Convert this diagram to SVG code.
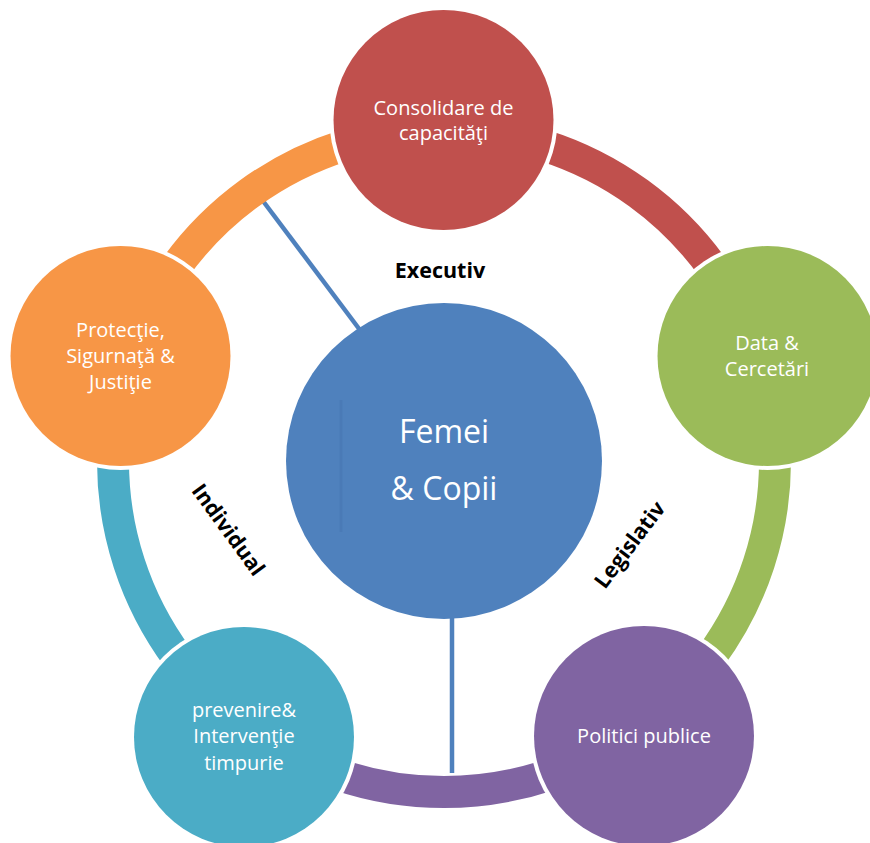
<svg xmlns="http://www.w3.org/2000/svg" width="870" height="843" viewBox="0 0 870 843">
  <style>
    .arc { fill: none; stroke-width: 32; }
    .halo { fill: #FFFFFF; }
    .lbl { font-family: "Open Sans", "Noto Sans", "DejaVu Sans", sans-serif; font-size: 20px; fill: #FFFFFF; text-anchor: middle; }
    .big { font-size: 32px; }
    .axis { font-family: "Open Sans", "Noto Sans", "DejaVu Sans", sans-serif; font-size: 21.5px; font-weight: bold; fill: #000000; text-anchor: middle; }
    .conn { stroke: #4F81BD; stroke-width: 4.5; fill: none; }
  </style>
  <rect width="870" height="843" fill="#FFFFFF"/>

  <g id="connectors">
    <line class="conn" x1="260" y1="197" x2="372" y2="346"/>
    <line class="conn" x1="452" y1="600" x2="452" y2="773"/>
    <path class="arc" stroke="#C0504D" d="M444 130 A331 331 0 0 1 758.8 358.7"/>
    <path class="arc" stroke="#9BBB59" d="M758.8 358.7 A331 331 0 0 1 638.6 728.8"/>
    <path class="arc" stroke="#8064A2" d="M638.6 728.8 A331 331 0 0 1 249.4 728.8"/>
    <path class="arc" stroke="#4BACC6" d="M249.4 728.8 A331 331 0 0 1 129.2 358.7"/>
    <path class="arc" stroke="#F79646" d="M129.2 358.7 A331 331 0 0 1 444 130"/>
  </g>

  <g id="center">
    <circle cx="444" cy="461" r="158" fill="#4F81BD"/>
    <line x1="341" y1="400" x2="341" y2="532" stroke="#4A7AB6" stroke-width="3"/>
    <text class="lbl big" x="444" y="443">Femei</text>
    <text class="lbl big" x="444" y="500">&amp; Copii</text>
  </g>

  <g id="node-consolidare">
    <circle class="halo" cx="443.5" cy="120" r="114"/>
    <circle cx="443.5" cy="120" r="110" fill="#C0504D"/>
    <text class="lbl" x="443.5" y="115">Consolidare de</text>
    <text class="lbl" x="443.5" y="140">capacităţi</text>
  </g>

  <g id="node-data">
    <circle class="halo" cx="767.5" cy="356" r="114"/>
    <circle cx="767.5" cy="356" r="110" fill="#9BBB59"/>
    <text class="lbl" x="767" y="350">Data &amp;</text>
    <text class="lbl" x="767" y="376">Cercetări</text>
  </g>

  <g id="node-politici">
    <circle class="halo" cx="644" cy="736" r="114"/>
    <circle cx="644" cy="736" r="110" fill="#8064A2"/>
    <text class="lbl" x="644" y="743">Politici publice</text>
  </g>

  <g id="node-prevenire">
    <circle class="halo" cx="244" cy="737" r="114"/>
    <circle cx="244" cy="737" r="110" fill="#4BACC6"/>
    <text class="lbl" x="244" y="717">prevenire&amp;</text>
    <text class="lbl" x="244" y="743">Intervenţie</text>
    <text class="lbl" x="244" y="770">timpurie</text>
  </g>

  <g id="node-protectie">
    <circle class="halo" cx="120.5" cy="356" r="114"/>
    <circle cx="120.5" cy="356" r="110" fill="#F79646"/>
    <text class="lbl" x="120.5" y="337">Protecţie,</text>
    <text class="lbl" x="120.5" y="363">Sigurnaţă &amp;</text>
    <text class="lbl" x="120.5" y="389">Justiţie</text>
  </g>

  <g id="labels">
    <text class="axis" x="440" y="278">Executiv</text>
    <text class="axis" transform="translate(228,530) rotate(54)" x="0" y="7">Individual</text>
    <text class="axis" transform="translate(630,545) rotate(-53)" x="0" y="7">Legislativ</text>
  </g>
</svg>
